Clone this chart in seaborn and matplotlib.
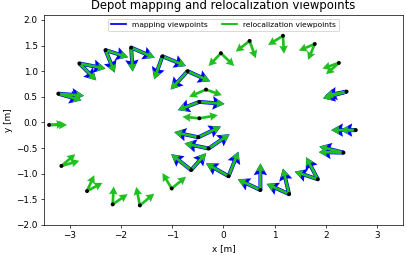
import numpy as np
import pandas as pd
import matplotlib
matplotlib.use('Agg')
import matplotlib.pyplot as plt
import seaborn as sns

# viewpoint positions [m]
px = [-3.40, -3.22, -2.81, -2.30, -1.80, -1.19, -0.70, -0.34, -0.47, -0.47,
      -0.05, 0.51, 1.16, 1.78, 2.25, 2.40, 2.58, 2.34, 1.84, 1.28,
      0.72, 0.10, -0.63, -0.29, -0.49, -1.01, -1.63, -2.16, -2.66, -3.16]
py = [-0.05, 0.56, 1.15, 1.41, 1.46, 1.29, 1.00, 0.64, 0.40, 0.08,
      1.35, 1.59, 1.69, 1.53, 1.16, 0.60, -0.15, -0.59, -1.11, -1.40,
      -1.32, -1.05, -0.93, -0.51, -0.29, -1.29, -1.62, -1.60, -1.34, -0.85]

# first view direction of each viewpoint
ax_dx = [0.35, 0.50, 0.51, 0.44, 0.46, 0.46, 0.44, 0.31, 0.49, 0.36,
         0.26, -0.27, -0.29, -0.31, -0.32, -0.46, -0.48, -0.47, -0.45, -0.44,
         -0.44, -0.44, -0.39, -0.47, -0.47, -0.18, -0.07, 0.02, 0.14, 0.27]
ax_dy = [0.00, -0.04, -0.10, -0.14, -0.20, -0.19, -0.20, -0.11, -0.04, 0.06,
         -0.25, -0.21, -0.18, -0.13, -0.11, -0.13, 0.00, 0.12, 0.15, 0.20,
         0.21, 0.25, 0.31, 0.10, 0.10, 0.30, 0.36, 0.35, 0.31, 0.23]

# second view direction of each viewpoint
bx_dx = [0.30, 0.45, 0.33, 0.18, 0.03, -0.16, -0.33, -0.33, -0.42, -0.33,
         -0.24, 0.12, 0.02, -0.13, -0.25, -0.42, -0.30, -0.48, -0.23, -0.12,
         0.00, 0.19, 0.29, 0.41, 0.44, 0.28, 0.28, 0.29, 0.30, 0.35]
bx_dy = [0.02, -0.13, -0.33, -0.44, -0.47, -0.45, -0.36, -0.14, -0.16, 0.03,
         -0.25, -0.34, -0.35, -0.31, -0.22, -0.08, 0.00, 0.01, 0.43, 0.50,
         0.52, 0.48, 0.33, 0.28, 0.21, 0.23, 0.23, 0.20, 0.16, 0.10]

# viewpoints that also have a visible mapping viewpoint
mapped = [1, 2, 3, 4, 5, 6, 8, 15, 16, 17, 18, 19, 20, 21, 22, 23, 24]

df = pd.DataFrame({'x': px, 'y': py, 'ax': ax_dx, 'ay': ax_dy,
                   'bx': bx_dx, 'by': bx_dy})
dm = df.iloc[mapped]

blue = '#0000ff'
green = '#1fbf1f'

fig, ax = plt.subplots(figsize=(6.4, 4.01), dpi=63.6)

# mapping viewpoints (blue, slightly bigger, drawn underneath)
for c in [('ax', 'ay'), ('bx', 'by')]:
    ax.quiver(dm['x'], dm['y'], dm[c[0]], dm[c[1]], color=blue,
              angles='xy', scale_units='xy', scale=1,
              width=0.011, headwidth=3.4, headlength=3.0, headaxislength=2.7, zorder=2)

# relocalization viewpoints (green)
for c in [('ax', 'ay'), ('bx', 'by')]:
    ax.quiver(df['x'], df['y'], df[c[0]], df[c[1]], color=green,
              angles='xy', scale_units='xy', scale=1,
              width=0.0075, headwidth=3.2, headlength=3.0, headaxislength=2.7, zorder=3)

sns.scatterplot(data=df, x='x', y='y', color='black', s=20, edgecolor='none',
                zorder=4, ax=ax, legend=False)

ax.plot([], [], color=blue, lw=2, label='mapping viewpoints')
ax.plot([], [], color='#00bb00', lw=2, label='relocalization viewpoints')
ax.legend(loc='upper center', ncol=2, fontsize=8.5)

ax.set_xlim(-3.5, 3.5)
ax.set_ylim(-2.0, 2.1)
ax.set_xticks([-3, -2, -1, 0, 1, 2, 3])
ax.set_title('Depot mapping and relocalization viewpoints', fontsize=13.2)
ax.set_xlabel('x [m]')
ax.set_ylabel('y [m]')
fig.subplots_adjust(left=0.108, right=0.990, bottom=0.118, top=0.942)
plt.savefig('out.png')
